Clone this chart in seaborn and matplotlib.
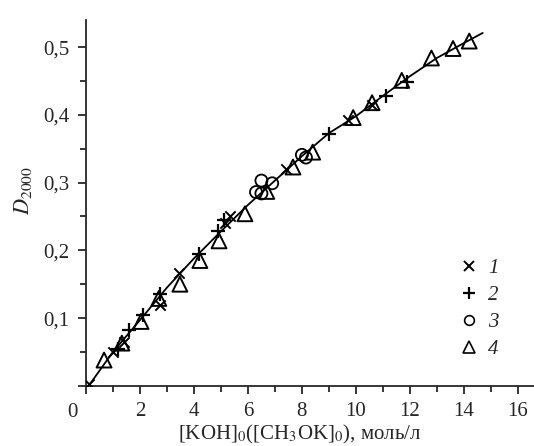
import numpy as np
import pandas as pd
import matplotlib
matplotlib.use('Agg')
import matplotlib.pyplot as plt
import seaborn as sns
from matplotlib.ticker import MultipleLocator, FuncFormatter
from matplotlib.lines import Line2D

# Серия 1 (×)
x1 = [0.1, 1.0, 1.4, 2.75, 3.45, 5.15, 5.35, 7.4, 9.7, 10.6]
y1 = [0.002, 0.050, 0.065, 0.120, 0.167, 0.240, 0.250, 0.320, 0.393, 0.415]
# Серия 2 (+)
x2 = [1.2, 1.6, 2.1, 2.75, 4.2, 4.9, 5.1, 9.0, 11.1, 11.9]
y2 = [0.055, 0.082, 0.104, 0.135, 0.195, 0.228, 0.245, 0.372, 0.428, 0.449]
# Серия 3 (○)
x3 = [6.3, 6.5, 6.5, 6.9, 8.0, 8.15]
y3 = [0.286, 0.303, 0.284, 0.299, 0.341, 0.337]
# Серия 4 (△)
x4 = [0.67, 1.33, 2.04, 2.7, 3.48, 4.22, 4.93, 5.89, 6.7, 7.67, 8.4, 9.9, 10.6, 11.7, 12.8, 13.6, 14.2]
y4 = [0.038, 0.063, 0.095, 0.129, 0.150, 0.185, 0.214, 0.254, 0.287, 0.323, 0.345, 0.396, 0.418, 0.451, 0.484, 0.498, 0.509]
# Аппроксимирующая кривая
xc = [0.1, 1, 2, 3, 4, 5, 6, 7, 8, 9, 10, 11, 12, 13, 14, 14.7]
yc = [0.0, 0.050, 0.097, 0.145, 0.188, 0.228, 0.267, 0.303, 0.339, 0.373, 0.398, 0.428, 0.457, 0.484, 0.506, 0.521]

sns.set_style('ticks')
plt.rcParams['font.family'] = ['Liberation Serif', 'DejaVu Serif']
plt.rcParams['mathtext.fontset'] = 'stix'

fig = plt.figure(figsize=(5.34, 4.46), dpi=100)
ax = fig.add_axes([0.161, 0.135, 0.839, 0.820])

sns.lineplot(x=xc, y=yc, ax=ax, color='black', linewidth=1.3, sort=False)

sns.scatterplot(x=x1, y=y1, ax=ax, marker='x', s=55, color='black', linewidth=1.4, legend=False, zorder=3)
sns.scatterplot(x=x2, y=y2, ax=ax, marker='+', s=90, color='black', linewidth=1.6, legend=False, zorder=3)
sns.scatterplot(x=x3, y=y3, ax=ax, marker='o', s=75, facecolor='none', edgecolor='black',
                linewidth=1.3, legend=False, zorder=3)
sns.scatterplot(x=x4, y=y4, ax=ax, marker='^', s=115, facecolor='none', edgecolor='black',
                linewidth=1.4, legend=False, zorder=3)

ax.set_xlim(0, 16.6)
ax.set_ylim(0, 0.54)
ax.xaxis.set_major_locator(MultipleLocator(2))
ax.xaxis.set_minor_locator(MultipleLocator(1))
ax.yaxis.set_major_locator(MultipleLocator(0.1))
ax.yaxis.set_minor_locator(MultipleLocator(0.05))
ax.xaxis.set_major_formatter(FuncFormatter(lambda v, p: '' if abs(v) < 1e-9 else f'{v:g}'))
ax.yaxis.set_major_formatter(FuncFormatter(lambda v, p: '' if abs(v) < 1e-9 else f'{v:.1f}'.replace('.', ',')))
ax.tick_params(which='major', direction='out', length=6, width=1.3, labelsize=15, pad=6)
ax.tick_params(which='minor', direction='out', length=4, width=1.3)
for s in ['top', 'right']:
    ax.spines[s].set_visible(False)
for s in ['left', 'bottom']:
    ax.spines[s].set_linewidth(1.3)

ax.text(-0.52, -0.039, '0', ha='center', va='center', fontsize=15, clip_on=False)

ax.set_xlabel('[KOH]$_0$([CH$_3$OK]$_0$), моль/л', fontsize=15)
ax.set_ylabel('$D_{2000}$', fontsize=16)
ax.xaxis.set_label_coords(0.478, -0.103)
ax.yaxis.set_label_coords(-0.116, 0.535)

handles = [
    Line2D([], [], marker='x', color='black', linestyle='none', markersize=7, markeredgewidth=1.4),
    Line2D([], [], marker='+', color='black', linestyle='none', markersize=9, markeredgewidth=1.6),
    Line2D([], [], marker='o', color='black', markerfacecolor='none', linestyle='none', markersize=7, markeredgewidth=1.2),
    Line2D([], [], marker='^', color='black', markerfacecolor='none', linestyle='none', markersize=8, markeredgewidth=1.2),
]
ax.legend(handles, ['1', '2', '3', '4'], loc='center left', bbox_to_anchor=(0.79, 0.21),
          frameon=False, handlelength=1.0, handletextpad=0.4, labelspacing=0.35,
          prop={'style': 'italic', 'size': 15, 'family': 'Liberation Serif'})

fig.savefig('out.png', dpi=100)
